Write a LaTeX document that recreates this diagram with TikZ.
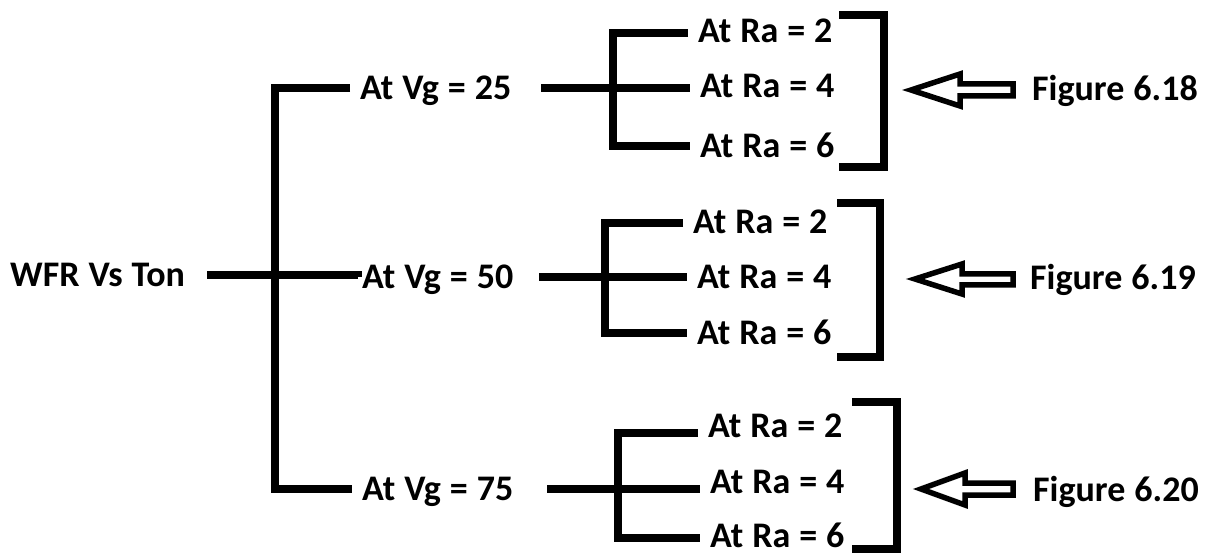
\documentclass[tikz,border=0pt]{standalone}
\usepackage{fontspec}
\setmainfont{Carlito}[WordSpace={1.1}]
\usetikzlibrary{calc}
\begin{document}
\begin{tikzpicture}[x=1pt,y=-1pt,
  lbl/.style={anchor=west,inner xsep=10pt,inner ysep=0pt,text height=23pt,text depth=0pt,
    font=\fontsize{36}{40}\selectfont\bfseries},
  conn/.style={line width=8pt,line join=miter},
  hollow/.style={line width=5.5pt,line join=miter,fill=white}]
\fill[white] (0,0) rectangle (1211,556);
\useasboundingbox (0,0) rectangle (1211,556);

% text nodes
\node[lbl,inner xsep=0pt] (root) at (10,275) {WFR Vs Ton};
\node[lbl] (vg1) at (350,88) {At Vg = 25};
\node[lbl,inner xsep=4pt] (vg2) at (358,277) {At Vg = 50};
\node[lbl] (vg3) at (352,489) {At Vg = 75};

\node[lbl] (ra12) at (688,31) {At Ra = 2};
\node[lbl] (ra14) at (690,86) {At Ra = 4};
\node[lbl] (ra16) at (690,146) {At Ra = 6};

\node[lbl] (ra22) at (683,222) {At Ra = 2};
\node[lbl] (ra24) at (687,277) {At Ra = 4};
\node[lbl] (ra26) at (687,333) {At Ra = 6};

\node[lbl] (ra32) at (698,426) {At Ra = 2};
\node[lbl] (ra34) at (700,482) {At Ra = 4};
\node[lbl] (ra36) at (700,536) {At Ra = 6};

\node[lbl,inner xsep=0pt] (f1) at (1032,89) {Figure 6.18};
\node[lbl,inner xsep=0pt] (f2) at (1030,278) {Figure 6.19};
\node[lbl,inner xsep=0pt] (f3) at (1033,490) {Figure 6.20};

% trunk
\coordinate (t1) at (275,88);
\coordinate (t3) at (275,489);
\draw[conn,shorten <=22pt] (root.east) -- (root.east -| vg2.west) -- (vg2.west);
\draw[conn] (vg1.west) -- (t1) -- (t3) -- (vg3.west);

% group 1
\coordinate (g1t) at (613,33);
\coordinate (g1b) at (613,146);
\draw[conn,shorten <=20pt] (vg1.east) -- (ra14.west |- vg1.east);
\draw[conn] (ra12.west |- g1t) -- (g1t) -- (g1b) -- (ra16.west |- g1b);

% group 2
\coordinate (g2t) at (605,223);
\coordinate (g2b) at (605,333);
\draw[conn,shorten <=22pt] (vg2.east) -- (ra24.west |- vg2.east);
\draw[conn] (ra22.west |- g2t) -- (g2t) -- (g2b) -- (ra26.west |- g2b);

% group 3
\coordinate (g3t) at (618,433);
\coordinate (g3b) at (618,538);
\draw[conn,shorten <=24pt] (vg3.east) -- (ra34.west |- vg3.east);
\draw[conn] (ra32.west |- g3t) -- (g3t) -- (g3b) -- (ra36.west |- g3b);

% brackets
\draw[conn] (839,15) -- (884,15) -- (884,167) -- (839,167);
\draw[conn] (837,203) -- (880,203) -- (880,357) -- (837,357);
\draw[conn] (852,402) -- (897,402) -- (897,549) -- (852,549);

% hollow arrows
\draw[hollow] (911,90) -- (960,74) -- (960,84) -- (1013,84) -- (1013,96) -- (960,96) -- (960,106) -- cycle;
\draw[hollow] (915,279) -- (962,264) -- (962,274) -- (1013,274) -- (1013,285) -- (962,285) -- (962,294) -- cycle;
\draw[hollow] (921,489) -- (965,473) -- (965,483) -- (1013,483) -- (1013,495) -- (965,495) -- (965,505) -- cycle;
\end{tikzpicture}
\end{document}
